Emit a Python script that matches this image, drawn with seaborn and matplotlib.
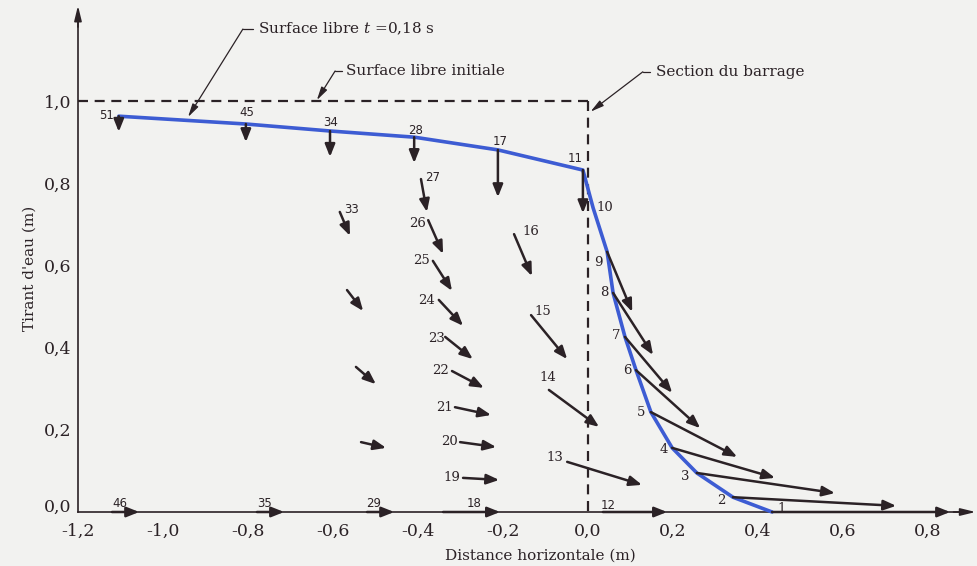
import matplotlib
matplotlib.use("Agg")
import matplotlib.pyplot as plt
import matplotlib.transforms as mtransforms
import numpy as np
import pandas as pd
import seaborn as sns

# Particle positions at t = 0.18 s (m) and velocity-arrow tips (m)
particle_id = [1, 2, 3, 4, 5, 6, 7, 8, 9, 10, 11, 12, 13, 14, 15, 16, 17, 18, 19, 20,
               21, 22, 23, 24, 25, 26, 27, 28, 29, 30, 31, 32, 33, 34, 35, 45, 46, 51]
x_pos = [0.433, 0.341, 0.256, 0.198, 0.148, 0.113, 0.087, 0.059, 0.045, 0.012,
         -0.012, 0.035, -0.049, -0.092, -0.134, -0.174, -0.212, -0.341, -0.294, -0.301,
         -0.313, -0.320, -0.336, -0.351, -0.365, -0.376, -0.393, -0.409, -0.520, -0.534,
         -0.546, -0.567, -0.584, -0.607, -0.779, -0.805, -1.120, -1.104]
y_pos = [0.0, 0.036, 0.095, 0.156, 0.243, 0.345, 0.426, 0.533, 0.633, 0.740,
         0.832, 0.0, 0.122, 0.297, 0.479, 0.676, 0.881, 0.0, 0.083, 0.170,
         0.255, 0.343, 0.426, 0.516, 0.611, 0.710, 0.810, 0.912, 0.0, 0.170,
         0.353, 0.540, 0.730, 0.927, 0.0, 0.944, 0.0, 0.963]
x_tip = [0.852, 0.725, 0.581, 0.440, 0.351, 0.264, 0.198, 0.153, 0.104, 0.012,
         -0.012, 0.186, 0.127, 0.026, -0.049, -0.132, -0.212, -0.207, -0.209, -0.216,
         -0.228, -0.245, -0.271, -0.294, -0.320, -0.341, -0.379, -0.409, -0.456, -0.475,
         -0.499, -0.529, -0.560, -0.607, -0.715, -0.805, -1.056, -1.104]
y_tip = [0.0, 0.015, 0.046, 0.083, 0.134, 0.204, 0.290, 0.382, 0.487, 0.740,
         0.727, 0.0, 0.066, 0.207, 0.372, 0.574, 0.766, 0.0, 0.078, 0.158,
         0.236, 0.302, 0.372, 0.453, 0.538, 0.628, 0.730, 0.849, 0.0, 0.156,
         0.311, 0.489, 0.672, 0.864, 0.0, 0.900, 0.0, 0.925]
unlabelled = [30, 31, 32]

# Particles lying on the free surface, from the reservoir end to the toe
surface_ids = [51, 45, 34, 28, 17, 11, 10, 9, 8, 7, 6, 5, 4, 3, 2, 1]

x_ticks = [-1.2, -1.0, -0.8, -0.6, -0.4, -0.2, 0.0, 0.2, 0.4, 0.6, 0.8]
y_ticks = [0.0, 0.2, 0.4, 0.6, 0.8, 1.0]
initial_depth = 1.0
reservoir_start = -1.2
dam_x = 0.0

# Number label offsets (pixels right, pixels down) from each particle
label_offset = {
    1: (10, -4), 2: (-12, 3), 3: (-12, 4), 4: (-8, 2), 5: (-10, 0), 6: (-9, 0),
    7: (-9, -1), 8: (-9, 0), 9: (-9, 11), 10: (12, 0), 11: (-8, -12), 12: (5, -7),
    13: (-12, -4), 14: (-1, -12), 15: (12, -4), 16: (17, -3), 17: (2, -8), 18: (31, -9),
    19: (-11, 0), 20: (-11, -1), 21: (-10, 0), 22: (-11, -1), 23: (-9, 2), 24: (-12, 1),
    25: (-11, 0), 26: (-11, 3), 27: (12, -2), 28: (1, -7), 29: (7, -9), 33: (12, -2),
    34: (1, -8), 35: (8, -9), 45: (1, -12), 46: (8, -9), 51: (-12, -1),
}
sans_labels = {11, 12, 17, 18, 27, 28, 29, 33, 34, 35, 45, 46, 51}

df = pd.DataFrame({"id": particle_id, "x": x_pos, "y": y_pos, "xt": x_tip, "yt": y_tip})
surf = df.set_index("id").loc[surface_ids].reset_index()

sns.set_theme(style="white")
plt.rcParams["font.family"] = ["DejaVu Serif"]
plt.rcParams["mathtext.fontset"] = "dejavuserif"

ink = "#2b2226"
paper = "#f2f2f0"
blue = "#3d5cd3"

fig = plt.figure(figsize=(9.77, 5.66), dpi=100, facecolor=paper)
ax = fig.add_axes([0.07329, 0.07362, 0.92661, 0.91860])
ax.set_facecolor(paper)
ax.set_xlim(-1.215, 0.915)
ax.set_ylim(-0.03, 1.235)

# Initial free surface and dam section
ax.plot([reservoir_start, dam_x], [initial_depth, initial_depth], ls=(0, (4.5, 3)),
        lw=1.6, color=ink, zorder=2)
ax.plot([dam_x, dam_x], [initial_depth, 0.0], ls=(0, (4.5, 3)), lw=1.6, color=ink, zorder=2)

# Free surface at t = 0.18 s
sns.lineplot(data=surf, x="x", y="y", sort=False, estimator=None, color=blue,
             lw=2.6, ax=ax, zorder=3)

# Velocity arrows
for _, r in df.iterrows():
    if abs(r.xt - r.x) + abs(r.yt - r.y) > 1e-6:
        ax.annotate("", xy=(r.xt, r.yt), xytext=(r.x, r.y),
                    arrowprops=dict(arrowstyle="-|>,head_length=0.75,head_width=0.3",
                                    lw=1.8, color=ink, shrinkA=0, shrinkB=0,
                                    mutation_scale=10),
                    zorder=4, annotation_clip=False)
    pid = int(r.id)
    if pid in unlabelled:
        continue
    ox, oy = label_offset[pid]
    fam = "DejaVu Sans" if pid in sans_labels else "DejaVu Serif"
    size = 8.5 if pid in sans_labels else 9.5
    ax.annotate(str(pid), xy=(r.x, r.y), xytext=(ox * 0.72, -oy * 0.72),
                textcoords="offset points", ha="center", va="center",
                fontsize=size, family=fam, color=ink, zorder=5)

# Axes drawn as arrows from the origin
for sp in ["top", "right"]:
    ax.spines[sp].set_visible(False)
ax.spines["bottom"].set_position(("data", 0.0))
ax.spines["left"].set_position(("data", reservoir_start))
ax.spines["bottom"].set_bounds(reservoir_start, 0.90)
ax.spines["left"].set_bounds(0.0, 1.215)
for sp in ["bottom", "left"]:
    ax.spines[sp].set_color(ink)
    ax.spines[sp].set_linewidth(1.2)
ax.annotate("", xy=(0.912, 0.0), xytext=(0.86, 0.0),
            arrowprops=dict(arrowstyle="-|>,head_length=0.9,head_width=0.22", lw=1.2,
                            color=ink, shrinkA=0, shrinkB=0, mutation_scale=10),
            annotation_clip=False)
ax.annotate("", xy=(reservoir_start, 1.232), xytext=(reservoir_start, 1.18),
            arrowprops=dict(arrowstyle="-|>,head_length=0.9,head_width=0.22", lw=1.2,
                            color=ink, shrinkA=0, shrinkB=0, mutation_scale=10),
            annotation_clip=False)

ax.set_xticks(x_ticks)
ax.set_xticklabels([f"{v:.1f}".replace(".", ",") for v in x_ticks])
ax.set_yticks(y_ticks)
ax.set_yticklabels([f"{v:.1f}".replace(".", ",") for v in y_ticks])
ax.tick_params(axis="both", direction="in", length=6, width=1.1, color=ink,
               labelcolor=ink, labelsize=12.5)
ax.tick_params(axis="x", pad=8)
ax.tick_params(axis="y", pad=5)
ax.get_xticklines()[0].set_visible(False)
ylab0 = ax.get_yticklabels()[0]
ylab0.set_transform(ylab0.get_transform() +
                    mtransforms.ScaledTranslation(0, 7 / 100, fig.dpi_scale_trans))

ax.set_xlabel("Distance horizontale (m)", fontsize=11, color=ink, va="center")
ax.xaxis.set_label_coords(540 / 977, 1 - 556 / 566, transform=fig.transFigure)
ax.set_ylabel("Tirant d'eau (m)", fontsize=11, color=ink, va="center")
ax.yaxis.set_label_coords(30 / 977, 1 - 268 / 566, transform=fig.transFigure)

# Callouts
lead = dict(arrowstyle="-|>,head_length=0.8,head_width=0.2", lw=0.9, color=ink,
            shrinkA=0, shrinkB=0, mutation_scale=10)
ax.plot([-0.788, -0.812], [1.175, 1.175], lw=0.9, color=ink, clip_on=False)
ax.annotate("", xy=(-0.941, 0.961), xytext=(-0.812, 1.175), arrowprops=lead,
            annotation_clip=False)
ax.text(-0.776, 1.175, "Surface libre $t$ =0,18 s", fontsize=11, color=ink,
        va="center", ha="left")

ax.plot([-0.579, -0.595], [1.073, 1.073], lw=0.9, color=ink, clip_on=False)
ax.annotate("", xy=(-0.638, 1.002), xytext=(-0.595, 1.073), arrowprops=lead,
            annotation_clip=False)
ax.text(-0.570, 1.073, "Surface libre initiale", fontsize=11, color=ink,
        va="center", ha="left")

ax.plot([0.146, 0.129], [1.071, 1.071], lw=0.9, color=ink, clip_on=False)
ax.annotate("", xy=(0.006, 0.974), xytext=(0.129, 1.071), arrowprops=lead,
            annotation_clip=False)
ax.text(0.160, 1.071, "Section du barrage", fontsize=11, color=ink,
        va="center", ha="left")

fig.savefig("out.png", dpi=100, facecolor=paper)
